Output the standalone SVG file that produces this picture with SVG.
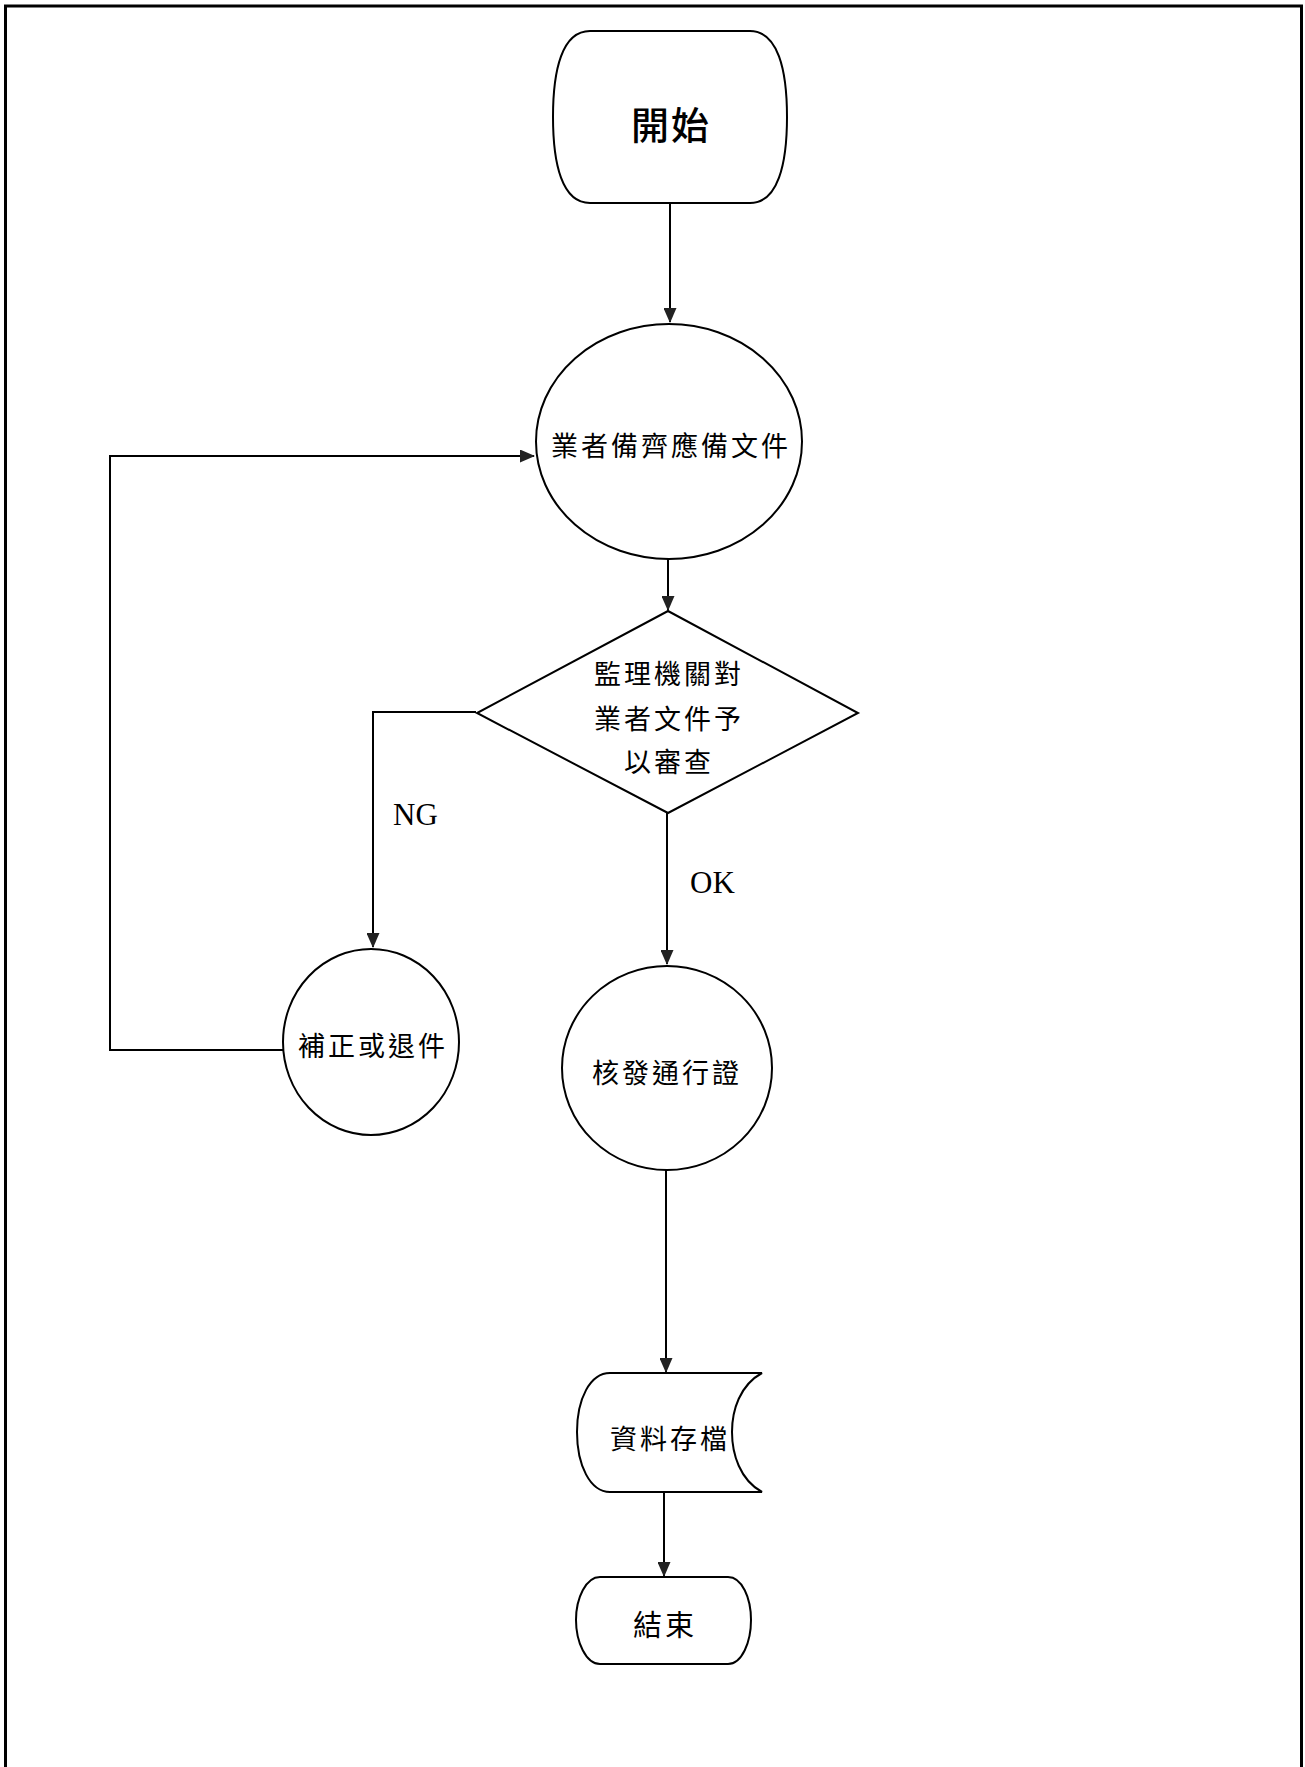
<svg xmlns="http://www.w3.org/2000/svg" width="1305" height="1767" viewBox="0 0 1305 1767">
<style>
.shape{fill:#fff;stroke:#000;stroke-width:2}
.conn{fill:none;stroke:#000;stroke-width:2}
.cjk{font-family:"Noto Sans CJK TC","Noto Sans CJK SC",sans-serif;font-size:27px;fill:#000;text-anchor:middle;dominant-baseline:central;letter-spacing:3px}
.lat{font-family:"Liberation Serif",serif;font-size:31px;fill:#000}
</style>
<defs>
<marker id="arr" markerWidth="15" markerHeight="13" refX="14" refY="6.5" orient="auto" markerUnits="userSpaceOnUse">
<path d="M0,0 L15,6.5 L0,13 Z" fill="#222"/>
</marker>
</defs>
<rect x="0" y="0" width="1305" height="1767" fill="#fff"/>
<path d="M5.5,1767 V6 H1301.5 V1767" fill="none" stroke="#000" stroke-width="3"/>

<g id="connectors">
<path class="conn" d="M670,203 V322" marker-end="url(#arr)"/>
<path class="conn" d="M668,559 V610" marker-end="url(#arr)"/>
<path class="conn" d="M476,712 H373 V947" marker-end="url(#arr)"/>
<path class="conn" d="M283,1050 H110 V456 H534" marker-end="url(#arr)"/>
<path class="conn" d="M667,813 V964" marker-end="url(#arr)"/>
<path class="conn" d="M666,1170 V1372" marker-end="url(#arr)"/>
<path class="conn" d="M664,1492 V1576" marker-end="url(#arr)"/>
<text class="lat" x="393" y="825">NG</text>
<text class="lat" x="690" y="893">OK</text>
</g>

<g id="start">
<path class="shape" d="M590,31 H750 C778,31 787,70 787,117 C787,164 778,203 750,203 H590 C562,203 553,164 553,117 C553,70 562,31 590,31 Z"/>
<text class="cjk" x="671" y="122" style="font-size:38px;font-weight:500;letter-spacing:2px">開始</text>
</g>

<g id="prepare">
<ellipse class="shape" cx="669" cy="441.5" rx="133" ry="117.5"/>
<text class="cjk" x="671" y="444">業者備齊應備文件</text>
</g>

<g id="review">
<polygon class="shape" points="668,611 858,713 668,813 477,713"/>
<text class="cjk" x="669" y="672">監理機關對</text>
<text class="cjk" x="669" y="717">業者文件予</text>
<text class="cjk" x="669" y="760">以審查</text>
</g>

<g id="correct">
<ellipse class="shape" cx="371" cy="1042" rx="88" ry="93"/>
<text class="cjk" x="373" y="1044">補正或退件</text>
</g>

<g id="issue">
<ellipse class="shape" cx="667" cy="1068" rx="105" ry="102"/>
<text class="cjk" x="667" y="1071">核發通行證</text>
</g>

<g id="store">
<path class="shape" d="M610,1373 H762 C740,1385 732,1410 732,1432 C732,1454 740,1480 762,1492 H610 C590,1492 577,1465 577,1432 C577,1399 590,1373 610,1373 Z"/>
<text class="cjk" x="670" y="1437">資料存檔</text>
</g>

<g id="end">
<path class="shape" d="M600,1577 H728 C742,1577 751,1598 751,1620 C751,1642 742,1664 728,1664 H600 C586,1664 576,1642 576,1620 C576,1598 586,1577 600,1577 Z"/>
<text class="cjk" x="665" y="1623" style="font-size:29px">結束</text>
</g>
</svg>
